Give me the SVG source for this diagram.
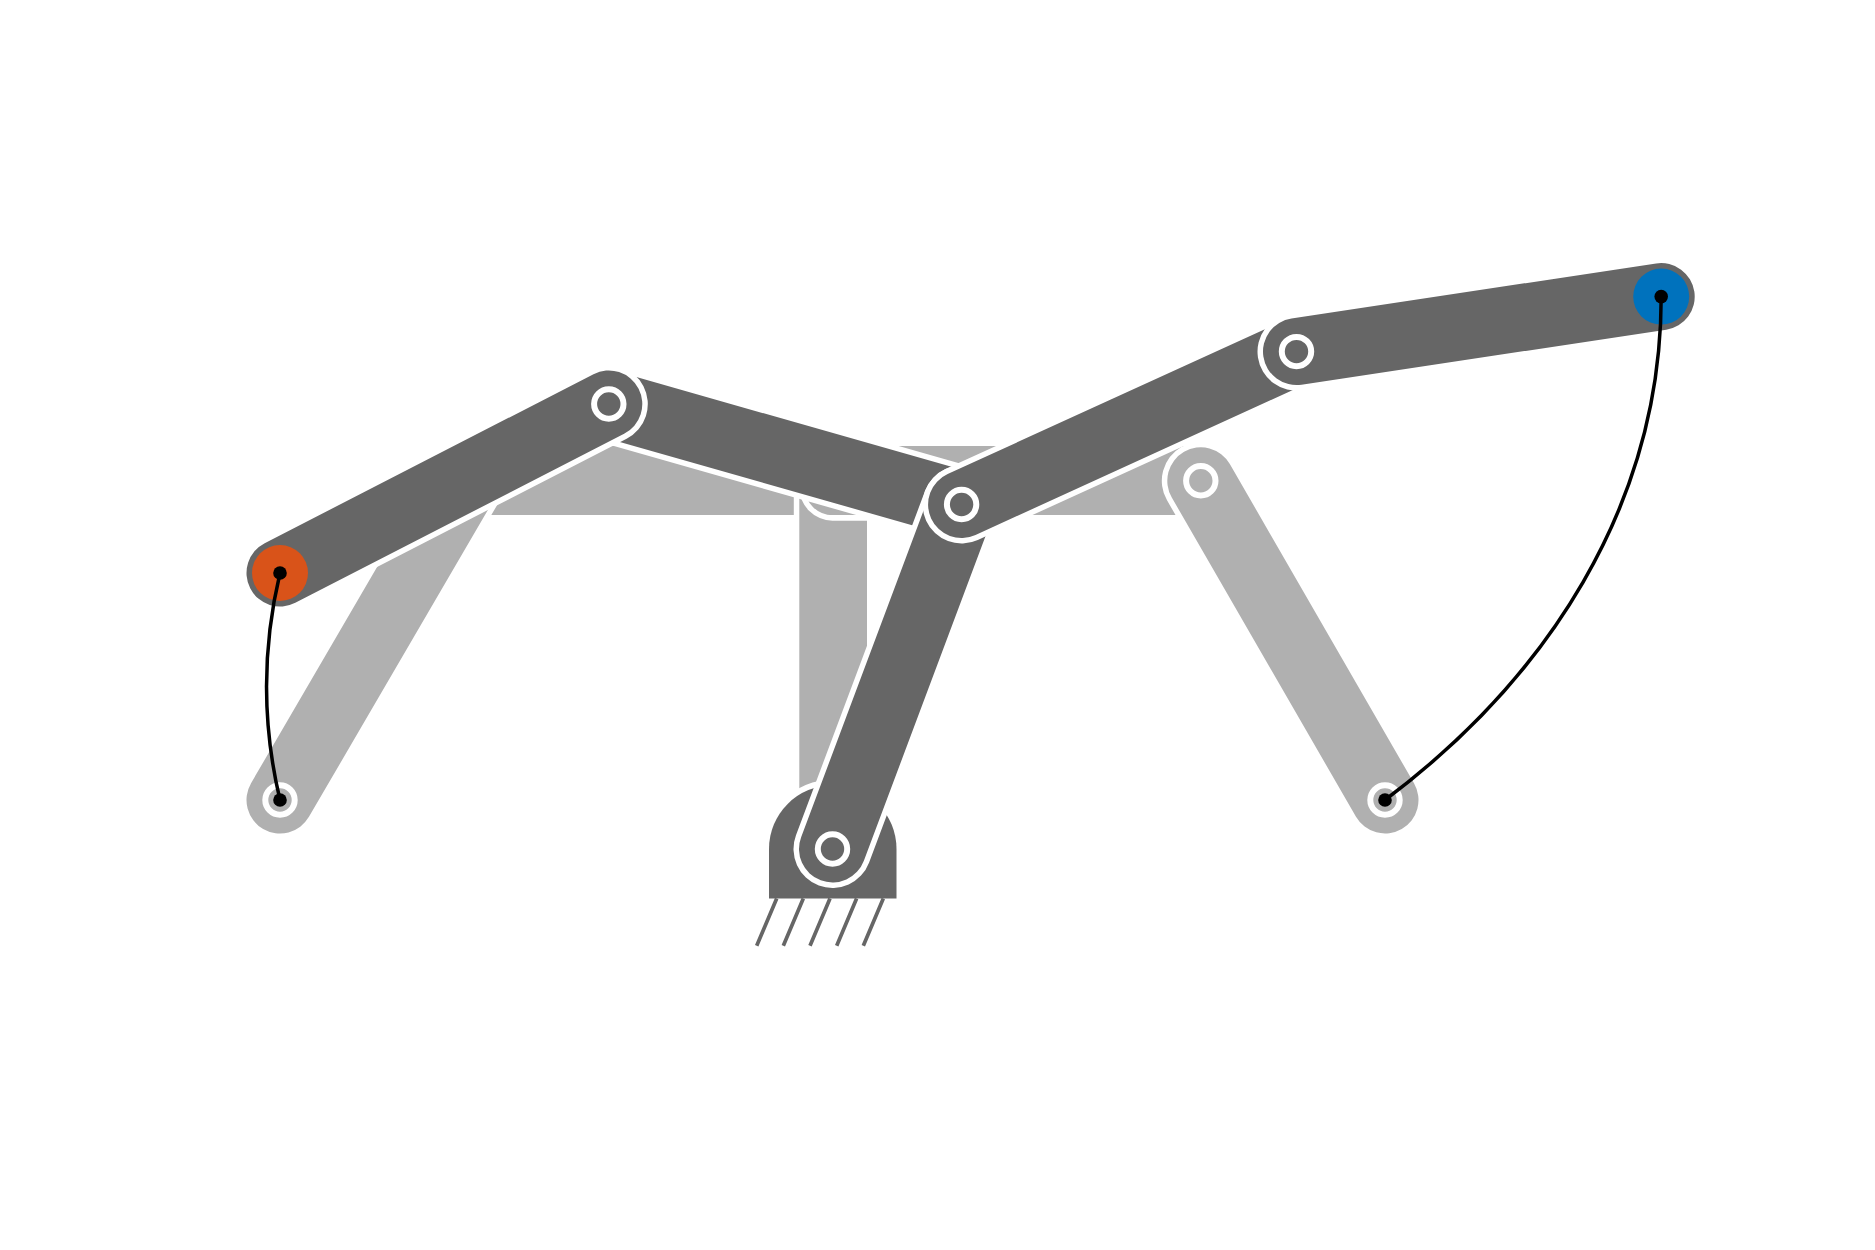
<svg xmlns="http://www.w3.org/2000/svg" width="1875" height="1250" viewBox="0 0 1875 1250">
<style>
.h{fill:none;stroke:#fff;stroke-width:78;stroke-linecap:round}
.d{fill:none;stroke:#666;stroke-width:67;stroke-linecap:round}
.l{fill:none;stroke:#b0b0b0;stroke-width:67;stroke-linecap:round}
.lf{fill:#b0b0b0}
.sh{fill:#b0b0b0;stroke:#fff;stroke-width:11;paint-order:stroke}
.bs{fill:#666;stroke:#fff;stroke-width:11;paint-order:stroke}
.hatch{stroke:#666;stroke-width:3.700;fill:none}
.rd{fill:#666;stroke:#fff;stroke-width:6}
.rl{fill:#b0b0b0;stroke:#fff;stroke-width:6}
.cv{fill:none;stroke:#000;stroke-width:3.500}
.dot{fill:#000}
</style>
<rect width="1875" height="1250" fill="#fff"/>
<g id="frame-band"><rect class="lf" x="450" y="446" width="750" height="69"/></g>
<g id="frame-post"><path class="sh" d="M799.300 480V487.200A33.500 33.500 0 0 0 832.500 520.700H867V800H799.300Z"/></g>
<g id="link-left-light"><path class="h" d="M280 800L466 481"/><path class="l" d="M280 800L466 481"/></g>
<g id="link-right-light"><path class="h" d="M1200.800 480.800L1385 800"/><path class="l" d="M1200.800 480.800L1385 800"/></g>
<g id="ground-base">
<path class="bs" d="M769 898.500V849A63.700 63.700 0 0 1 896.500 849V898.500Z"/>
<path class="hatch" d="M776.700 898.500L756.700 945.700M803.300 898.500L783.300 945.700M830 898.500L810 945.700M856.600 898.500L836.700 945.700M883.300 898.500L863.300 945.700"/>
</g>
<g id="link-bc"><path class="h" d="M608.800 404L961.600 504.500"/><path class="d" d="M608.800 404L961.600 504.500"/></g>
<g id="link-ab"><path class="h" d="M280 573L608.800 404"/><path class="d" d="M280 573L608.800 404"/></g>
<g id="link-dc"><path class="h" d="M832.500 849L961.600 504.500"/><path class="d" d="M832.500 849L961.600 504.500"/></g>
<g id="link-cf"><path class="h" d="M961.600 504.500L1296.500 351.600"/><path class="d" d="M961.600 504.500L1296.500 351.600"/></g>
<g id="link-fg"><path class="h" d="M1296.500 351.600L1661.200 296.600"/><path class="d" d="M1296.500 351.600L1661.200 296.600"/></g>
<g id="joint-b"><circle class="rd" cx="608.800" cy="404" r="14.700"/></g>
<g id="joint-c"><circle class="rd" cx="961.600" cy="504.500" r="14.700"/></g>
<g id="joint-d"><circle class="rd" cx="832.500" cy="849" r="14.700"/></g>
<g id="joint-f"><circle class="rd" cx="1296.500" cy="351.600" r="14.700"/></g>
<g id="joint-e"><circle class="rl" cx="1200.800" cy="480.800" r="14.700"/></g>
<g id="joint-a0"><circle class="rl" cx="280" cy="800" r="14.700"/></g>
<g id="joint-h"><circle class="rl" cx="1385" cy="800" r="14.700"/></g>
<g id="joint-a"><circle cx="280" cy="573" r="28" fill="#d95319"/></g>
<g id="joint-g"><circle cx="1661.200" cy="296.600" r="28" fill="#0072bd"/></g>
<g id="connectors">
<path class="cv" d="M280 573A491 491 0 0 0 280 800"/>
<path class="cv" d="M1661.200 296.600C1661.200 506.600 1545 680 1385 800"/>
<circle class="dot" cx="280" cy="573" r="6.800"/>
<circle class="dot" cx="280" cy="800" r="6.800"/>
<circle class="dot" cx="1661.200" cy="296.600" r="6.800"/>
<circle class="dot" cx="1385" cy="800" r="6.800"/>
</g>
</svg>
